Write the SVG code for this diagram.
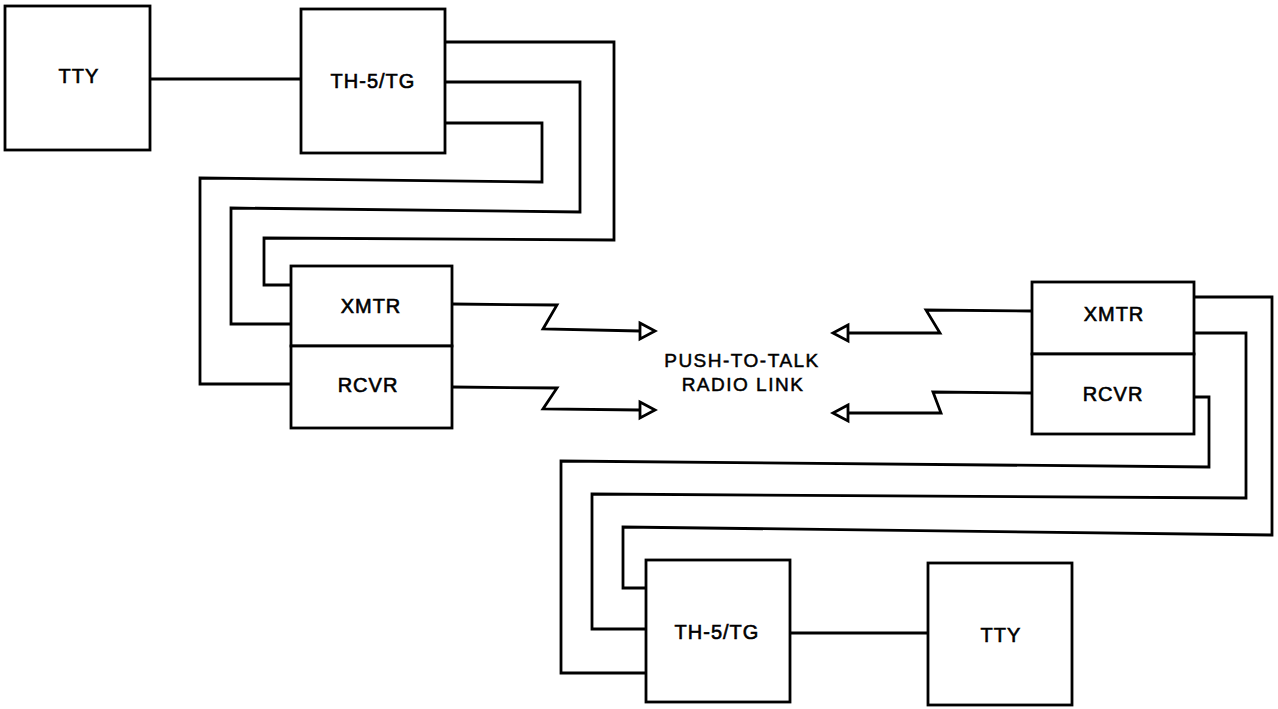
<svg xmlns="http://www.w3.org/2000/svg" width="1278" height="709" viewBox="0 0 1278 709">
<style>
.box{fill:#fff;stroke:#000;stroke-width:2.8}
.ln{fill:none;stroke:#000;stroke-width:2.8;stroke-linejoin:miter}
.ah{fill:#fff;stroke:#000;stroke-width:2.8;stroke-linejoin:miter}
.t{font-family:"Liberation Sans",Arial,sans-serif;font-size:20px;fill:#000;stroke:#000;stroke-width:0.6;text-anchor:middle;letter-spacing:1px}
.lbl{font-family:"Liberation Sans",Arial,sans-serif;font-size:19px;fill:#000;stroke:#000;stroke-width:0.5;text-anchor:middle;letter-spacing:1.5px}
</style>
<rect width="1278" height="709" fill="#fff"/>
<g id="connectors">
<polyline class="ln" points="150,79 301,79"/>
<polyline class="ln" points="445,42 614,42 614,240 264,238 264,285 291,285"/>
<polyline class="ln" points="445,82 580,82 580,212 231,208 231,324 291,324"/>
<polyline class="ln" points="445,123 542,123 542,182 200,178 200,384 291,384"/>
<polyline class="ln" points="452,304 557,305 543,329 640,331"/>
<polyline class="ln" points="452,387 557,388 543,409 640,410"/>
<polygon class="ah" points="640,323 655,331 640,339"/>
<polygon class="ah" points="640,402 655,410 640,418"/>
<polyline class="ln" points="1032,311 926,310 940,333 848,333"/>
<polyline class="ln" points="1032,393 933,392 941,413 848,413"/>
<polygon class="ah" points="848,325 833,333 848,341"/>
<polygon class="ah" points="848,405 833,413 848,421"/>
<polyline class="ln" points="1194,297 1272,297 1272,535 623,527 623,588 646,588"/>
<polyline class="ln" points="1194,333 1246,333 1246,498 592,494 592,629 646,629"/>
<polyline class="ln" points="1194,397 1209,397 1209,467 561,461 561,673 646,673"/>
<polyline class="ln" points="790,633 928,633"/>
</g>
<g id="tty1"><rect class="box" x="5" y="6" width="145" height="144"/><text class="t" x="79" y="83">TTY</text></g>
<g id="th1"><rect class="box" x="301" y="9" width="144" height="144"/><text class="t" x="373" y="88">TH-5/TG</text></g>
<g id="xmtr1"><rect class="box" x="291" y="266" width="161" height="80"/><text class="t" x="371" y="313">XMTR</text></g>
<g id="rcvr1"><rect class="box" x="291" y="346" width="161" height="82"/><text class="t" x="368" y="392">RCVR</text></g>
<g id="link"><text class="lbl" x="742" y="367">PUSH-TO-TALK</text><text class="lbl" x="743" y="391">RADIO LINK</text></g>
<g id="xmtr2"><rect class="box" x="1032" y="282" width="162" height="72"/><text class="t" x="1114" y="321">XMTR</text></g>
<g id="rcvr2"><rect class="box" x="1032" y="354" width="162" height="80"/><text class="t" x="1113" y="401">RCVR</text></g>
<g id="th2"><rect class="box" x="646" y="560" width="144" height="142"/><text class="t" x="717" y="639">TH-5/TG</text></g>
<g id="tty2"><rect class="box" x="928" y="563" width="144" height="142"/><text class="t" x="1001" y="642">TTY</text></g>
</svg>
